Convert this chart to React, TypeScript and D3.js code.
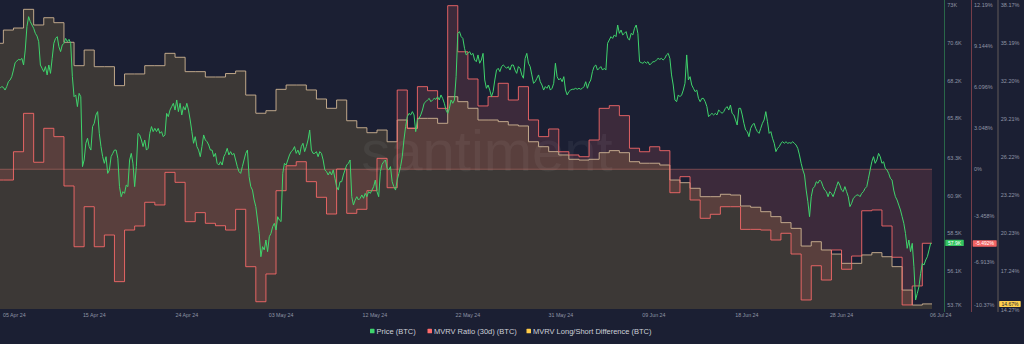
import React from "react";
import * as d3 from "d3";

// ---------- data ----------
const RANGE_START = "2024-04-05T16:00:00Z";
const RANGE_END = "2024-07-06T23:00:00Z";
const DAILY_FIRST = "2024-04-05T00:00:00Z";
const PRICE_STEP_HOURS = 4;

// MVRV Ratio (30d), %, daily 05 Apr .. 06 Jul 2024
const mvrvRatio30d: number[] = [
  -0.8, -0.8, 1.3, 4.15, 0.52, 3.04, 2.42, -1.24, -5.75, -2.78,
  -5.75, -4.88, -8.34, -4.51, -4.21, -2.45, -2.65, -0.23, -0.97, -3.89,
  -3.22, -4.01, -4.19, -4.51, -2.97, -7.23,
  -9.83, -7.77, -1.59, 0.26, 0.56, -0.92, -2.08, -3.32, 0.02, -3.27,
  -2.97, -1.59, 0.81, -1.37, 5.88, 3.04, 6.13, 5.83, 4.52, 12.14,
  8.72, 6.7, 4.7, 5.39, 6.38, 5.14, 6.13, 3.66, 2.42, 2.99, 1.3,
  1.06, 0.93, 2.17, 4.52, 4.72, 3.98, 1.56, 1.3, 1.67, 1.38,
  -1.74, -0.55, -2.28, -3.64, -3.34, -2.78, -2.78, -4.46, -4.46, -4.51,
  -5.25, -4.75, -6.29, -9.7, -7.16, -8.22, -5.99, -7.42, -6.44, -3.08,
  -3.02, -4.21, -6.53, -10.07, -8.66, -5.492,
];

// MVRV Long/Short Difference, %, daily 05 Apr .. 06 Jul 2024
const mvrvLongShort: number[] = [
  35.16, 36.2, 36.36, 37.83, 36.6, 37.17, 36.78, 35.24, 33.4, 34.63,
  33.32, 33.32, 31.83, 32.75, 32.75, 33.4, 33.4, 34.37, 34.06, 32.93,
  32.93, 32.51, 32.51, 32.78, 32.98, 31.09,
  29.66, 29.86, 31.54, 31.88, 31.88, 31.49, 30.78, 30.05, 30.7, 29.07,
  28.52, 28.13, 28.34, 27.42, 29.13, 28.48, 29.26, 29.26, 28.87, 30.96,
  30.57, 30.05, 29.13, 29.13, 29.0, 28.74, 28.66, 27.42, 27.03, 26.64, 26.38,
  26.04, 25.98, 26.04, 26.56, 26.72, 26.56, 25.85, 25.73, 25.73, 25.59,
  24.41, 24.2, 23.76, 23.1, 23.1, 23.29, 23.23, 22.37, 22.27, 21.92,
  21.53, 21.06, 20.61, 19.22, 19.56, 18.91, 18.59, 17.86, 17.86, 18.52,
  18.7, 18.38, 17.6, 15.76, 14.58, 14.67,
];

// BTC price, thousands USD, every 4 hours from RANGE_START
const priceBTC: number[] = [
  67.71, 67.82, 67.77, 67.6, 67.82, 68.13, 68.24, 68.45, 68.87, 69.34,
  69.44, 69.55, 69.51, 69.61, 69.19, 70.14, 71.63, 72.26, 71.94, 71.73,
  71.52, 71.2, 71.03, 70.67, 69.19, 68.98, 68.77, 69.09, 68.56, 69.19,
  68.66, 69.61, 70.57, 70.88, 70.99, 70.35, 70.04, 70.46, 70.57, 70.88,
  70.67, 70.82, 70.57, 68.45, 67.18, 67.29, 66.55, 67.39, 67.18, 62.74,
  63.16, 64.22, 64.54, 64.01, 63.79, 65.28, 65.49, 66.02, 66.23, 64.85,
  64.01, 63.37, 62.95, 63.37, 62.31, 62.53, 63.37, 63.58, 63.79, 63.79,
  63.27, 61.47, 60.83, 61.15, 61.04, 61.57, 61.47, 63.16, 63.58, 62.95,
  61.47, 62.74, 64.85, 64.75, 64.43, 64.01, 64.43, 63.79, 63.9, 64.85,
  65.28, 64.96, 65.17, 64.96, 65.17, 64.85, 64.96, 64.64, 64.75, 66.12,
  65.91, 66.33, 66.55, 66.76, 66.33, 66.97, 66.23, 66.76, 66.02, 66.55,
  66.33, 66.76, 66.33,
  65.7, 64.96, 64.22, 64.64, 64.01, 63.79, 63.37, 64.01, 64.75, 64.43,
  64.32, 64.11, 63.79, 63.79, 63.37, 63.58, 62.95, 62.84, 63.05, 62.84,
  63.37, 63.58, 63.9, 63.48, 63.69, 63.48, 63.58, 63.16, 62.74, 62.42,
  62.31, 62.74, 63.16, 63.58, 63.79, 62.1, 61.47, 61.25, 60.62, 60.2,
  59.35, 58.5, 57.02, 57.66, 57.45, 58.08, 57.34, 58.29, 58.5, 58.93,
  59.14, 58.72, 59.56, 59.35, 59.25, 62.31, 62.95, 62.84, 63.16, 63.48,
  63.69, 63.79, 64.01, 63.58, 63.79, 63.48, 64.01, 64.22, 63.69, 64.01,
  64.43, 65.06, 63.79, 63.58, 63.58, 63.69, 63.37, 63.69, 63.58, 63.16,
  62.53, 62.42, 62.21, 62.42, 62.21, 62.53, 62.0, 61.47, 61.25, 61.78,
  61.78, 62.21, 62.53, 62.84, 62.95, 63.16, 60.83, 60.3, 60.62, 60.83,
  60.62, 60.73, 60.94, 60.73, 61.04, 60.83, 61.15, 61.04, 61.25, 61.47,
  61.89, 61.15, 60.83, 62.42, 62.89, 63.05, 63.16, 62.63, 62.53, 62.74,
  61.78, 61.47, 61.25, 61.89, 62.31, 62.74, 63.37, 64.43, 65.28, 65.91,
  66.12, 66.02, 66.23, 66.02, 64.96, 65.7, 65.81, 66.02, 66.33, 66.76,
  66.86, 66.97, 67.07, 66.86, 66.97, 67.07, 67.01, 67.18, 66.97, 67.29,
  67.07, 66.76, 66.33, 66.12, 66.44, 66.97, 66.76, 66.97, 68.45, 71.2,
  71.31, 70.99, 70.88, 70.25, 69.83, 69.93, 70.04, 69.83, 69.93, 69.51,
  69.4, 69.83, 69.3, 69.51, 69.93, 68.24, 67.71, 67.92, 67.6, 67.18,
  67.5, 68.24, 68.87, 68.98, 68.77, 69.09, 69.19, 69.09, 68.98, 69.09,
  68.87, 69.19, 69.19, 68.87, 68.66, 69.09, 68.98, 68.56, 68.35, 69.61,
  69.93, 69.3, 69.09, 68.56, 68.03, 68.13, 68.35, 68.56, 68.13, 67.92,
  67.6, 67.82, 67.71, 67.92, 67.6, 67.71, 68.03, 69.3,
  68.45, 68.24, 68.35, 68.13, 68.45, 67.6, 67.29, 67.5, 67.6, 67.65,
  67.65, 67.71, 67.65, 67.71, 67.65, 67.71, 67.82, 68.13, 67.71, 68.03,
  68.24, 68.77, 69.09, 69.19, 68.87, 68.98, 69.09, 68.87, 68.98, 68.87,
  70.57, 70.78, 70.99, 70.88, 71.1, 70.99, 71.73, 71.2, 71.41, 71.1,
  71.2, 71.31, 70.88, 70.78, 71.2, 71.1, 71.52, 71.73, 71.2, 69.4,
  69.34, 69.3, 69.4, 69.3, 69.4, 69.19, 69.3, 69.4, 69.4, 69.51,
  69.61, 69.55, 69.61, 69.51, 69.61, 69.83, 69.93, 69.61, 68.56, 67.92,
  66.97, 66.86, 67.29, 67.18, 67.29, 67.6, 68.03, 69.83, 68.24, 68.45,
  67.92, 67.71, 67.5, 67.6, 67.07, 66.86, 67.07, 67.07, 66.86, 66.55,
  65.91, 66.02, 66.12, 66.02, 66.12, 66.02, 66.33, 66.23, 66.12, 66.23,
  66.44, 66.55, 66.33, 66.65, 66.12, 66.02, 65.7, 65.38, 66.44,
  66.44, 66.02, 65.49, 65.06, 64.96, 64.64, 65.17, 65.38, 65.49, 65.17,
  64.96, 64.85, 65.17, 65.49, 65.7, 66.23, 65.59, 64.85, 64.96, 64.54,
  64.22, 63.69, 63.9, 64.01, 64.22, 64.32, 64.22, 64.32, 64.22, 64.26,
  64.22, 64.32, 64.22, 64.11, 63.9, 63.48, 62.95, 62.53, 62.21, 61.25,
  60.51, 59.56, 60.83, 61.36, 61.47, 61.78, 61.68, 61.89, 61.78, 61.47,
  61.25, 61.15, 60.83, 61.15, 61.04, 60.83, 61.15, 61.47, 61.78, 61.57,
  61.25, 61.15, 61.47, 61.15, 60.83, 60.2, 60.41, 60.73, 60.83, 60.94,
  60.94, 60.83, 61.04, 61.15, 61.36, 61.47, 62.0, 62.53, 63.05, 63.37,
  62.95, 63.16, 63.58, 63.37, 62.95, 63.05, 62.63, 62.53, 62.31, 62.0,
  61.89, 61.25, 60.83, 60.62, 60.3, 59.99, 59.56, 59.14, 58.5, 57.55,
  58.08, 57.34, 57.87, 56.39, 54.27, 54.69, 55.12, 55.96, 56.6, 56.49,
  56.81, 57.02, 57.45, 57.9,
];

const priceDomain = [53.7, 73];
const priceTicks = [73, 70.6, 68.2, 65.8, 63.3, 60.9, 58.5, 56.1, 53.7];
const mvrvDomain = [-10.37, 12.19];
const mvrvTicks = [12.19, 9.144, 6.096, 3.048, 0, -3.458, -6.913, -10.37];
const mvrvTickLabels = ["12.19%", "9.144%", "6.096%", "3.048%", "0%", "-3.458%", "-6.913%", "-10.37%"];
const lsDomain = [14.27, 38.17];
const lsTicks = [38.17, 35.19, 32.2, 29.21, 26.22, 23.22, 20.23, 17.24, 14.27];
const lsTickLabels = ["38.17%", "35.19%", "32.20%", "29.21%", "26.22%", "23.22%", "20.23%", "17.24%", "14.27%"];

const xTickDates = [
  "2024-04-15T00:00:00Z", "2024-04-24T04:00:00Z", "2024-05-03T12:00:00Z",
  "2024-05-12T19:00:00Z", "2024-05-22T00:00:00Z", "2024-05-31T05:00:00Z",
  "2024-06-09T10:00:00Z", "2024-06-18T15:00:00Z", "2024-06-28T00:00:00Z",
];
const xTickLabels = [
  "15 Apr 24", "24 Apr 24", "03 May 24", "12 May 24", "22 May 24",
  "31 May 24", "09 Jun 24", "18 Jun 24", "28 Jun 24",
];
const firstDateLabel = "05 Apr 24";
const lastDateLabel = "06 Jul 24";

const seriesNames = ["Price (BTC)", "MVRV Ratio (30d) (BTC)", "MVRV Long/Short Difference (BTC)"];

// ---------- styles ----------
const BG = "#1b1f33";
const GREEN = "#3fd46c";
const RED = "#ff6b6b";
const YELLOW = "#ffcb47";
const TAN = "#cfb594";
const AXIS_TEXT = "#8f95a5";
const FONT = "'Liberation Sans', Arial, sans-serif";

const W = 1024;
const H = 344;
const PL = 0, PR = 932, PT = 5, PB = 309;

type Pt = { d: Date; v: number };

export default function App() {
  const start = new Date(RANGE_START);
  const end = new Date(RANGE_END);
  const x = d3.scaleUtc().domain([start, end]).range([PL, PR]);
  const yP = d3.scaleLinear().domain(priceDomain).range([PB, PT]);
  const yM = d3.scaleLinear().domain(mvrvDomain).range([PB, PT]);
  const yL = d3.scaleLinear().domain(lsDomain).range([PB, PT]);

  const dayDate = (i: number) => d3.utcDay.offset(new Date(DAILY_FIRST), i);
  const withEnd = (arr: number[]): Pt[] => [
    ...arr.map((v, i) => ({ d: dayDate(i), v })),
    { d: end, v: arr[arr.length - 1] },
  ];
  const mvrvPts = withEnd(mvrvRatio30d);
  const lsPts = withEnd(mvrvLongShort);
  const pricePts: Pt[] = priceBTC.map((v, i) => ({ d: d3.utcHour.offset(start, i * PRICE_STEP_HOURS), v }));

  const lsArea = d3.area<Pt>().x((p) => x(p.d)).y0(PB).y1((p) => yL(p.v)).curve(d3.curveStepAfter);
  const lsLine = d3.line<Pt>().x((p) => x(p.d)).y((p) => yL(p.v)).curve(d3.curveStepAfter);
  const mArea = d3.area<Pt>().x((p) => x(p.d)).y0(yM(0)).y1((p) => yM(p.v)).curve(d3.curveStepAfter);
  const mLine = d3.line<Pt>().x((p) => x(p.d)).y((p) => yM(p.v)).curve(d3.curveStepAfter);
  const pLine = d3.line<Pt>().x((p) => x(p.d)).y((p) => yP(p.v));

  const clampLabel = (y: number) => Math.max(4.5, Math.min(305, y));

  const lastPrice = priceBTC[priceBTC.length - 1];
  const lastM = mvrvRatio30d[mvrvRatio30d.length - 1];
  const lastL = mvrvLongShort[mvrvLongShort.length - 1];

  const axP = 944.5, axM = 971.5, axL = 998;

  const legendColors = [GREEN, RED, YELLOW];
  const legendX = [370, 427.5, 526.5];

  return (
    <svg width={W} height={H} style={{ position: "absolute", left: 0, top: 0, display: "block" }} fontFamily={FONT}>
      <defs>
        <clipPath id="plotclip">
          <rect x={PL} y={0} width={PR - PL} height={PB + 1} />
        </clipPath>
      </defs>
      <rect x={0} y={0} width={W} height={H} fill={BG} />

      <g clipPath="url(#plotclip)">
        <path d={lsArea(lsPts) || ""} fill={YELLOW} fillOpacity={0.15} />
        <path d={mArea(mvrvPts) || ""} fill={RED} fillOpacity={0.15} />
        <text x={487} y={171} textAnchor="middle" fontSize={58} fill="#ffffff" fillOpacity={0.05} fontFamily={FONT}>
          santiment
        </text>
        <path d={lsLine(lsPts) || ""} fill="none" stroke={TAN} strokeWidth={1} strokeOpacity={0.9} />
        <path d={mLine(mvrvPts) || ""} fill="none" stroke={RED} strokeWidth={1} strokeOpacity={0.85} />
        <line x1={PL} x2={PR} y1={yM(0)} y2={yM(0)} stroke="#ff8a7a" strokeOpacity={0.45} strokeWidth={0.8} />
        <path d={pLine(pricePts) || ""} fill="none" stroke={GREEN} strokeWidth={1} />
      </g>

      {/* right axes */}
      <line x1={axP} x2={axP} y1={0} y2={312} stroke={GREEN} strokeOpacity={0.5} strokeWidth={0.8} />
      <line x1={axM} x2={axM} y1={0} y2={312} stroke={RED} strokeOpacity={0.5} strokeWidth={0.8} />
      <line x1={axL} x2={axL} y1={0} y2={312} stroke={TAN} strokeOpacity={0.5} strokeWidth={0.8} />

      <g fontSize={5.5} fill={AXIS_TEXT}>
        {priceTicks.map((t) => (
          <text key={"p" + t} x={axP + 2.8} y={clampLabel(yP(t))} dy="0.35em">{`${t}K`}</text>
        ))}
        {mvrvTicks.map((t, i) => (
          <text key={"m" + t} x={axM + 2.5} y={clampLabel(yM(t))} dy="0.35em">{mvrvTickLabels[i]}</text>
        ))}
        {lsTicks.map((t, i) => (
          <text key={"l" + t} x={axL + 2.8} y={i === lsTicks.length - 1 ? 310 : clampLabel(yL(t))} dy="0.35em">
            {lsTickLabels[i]}
          </text>
        ))}
      </g>

      {/* value badges */}
      <g fontSize={5}>
        <rect x={axP + 0.8} y={yP(lastPrice) - 3} width={18.5} height={6.2} fill="#33c45f" rx={0.6} />
        <text x={axP + 10} y={yP(lastPrice)} dy="0.35em" textAnchor="middle" fill="#ffffff">{`${lastPrice}K`}</text>
        <rect x={axM + 1.2} y={yM(lastM) - 3} width={24} height={6.4} fill="#f26464" rx={0.6} />
        <text x={axM + 13.2} y={yM(lastM)} dy="0.35em" textAnchor="middle" fill="#ffffff">{`${lastM}%`}</text>
        <rect x={axL + 1.2} y={yL(lastL) - 2.8} width={21.5} height={5.8} fill="#ffd04f" rx={0.6} />
        <text x={axL + 12} y={yL(lastL)} dy="0.35em" textAnchor="middle" fill="#1b1f33">{`${lastL}%`}</text>
      </g>

      {/* x axis */}
      <g fontSize={5.3} fill={AXIS_TEXT}>
        <text x={x(start) + 3} y={315.5} dy="0.35em" textAnchor="start">{firstDateLabel}</text>
        {xTickDates.map((d, i) => (
          <text key={d} x={x(new Date(d))} y={315.5} dy="0.35em" textAnchor="middle">{xTickLabels[i]}</text>
        ))}
        <text x={x(end) - 2} y={315.5} dy="0.35em" textAnchor="start">{lastDateLabel}</text>
      </g>

      {/* legend */}
      <g fontSize={7.5} fill="#cdd0d8">
        {seriesNames.map((name, i) => (
          <g key={name}>
            <rect x={legendX[i]} y={328.8} width={4.5} height={4.5} fill={legendColors[i]} rx={0.6} />
            <text x={legendX[i] + 6.5} y={331} dy="0.35em">{name}</text>
          </g>
        ))}
      </g>
    </svg>
  );
}
